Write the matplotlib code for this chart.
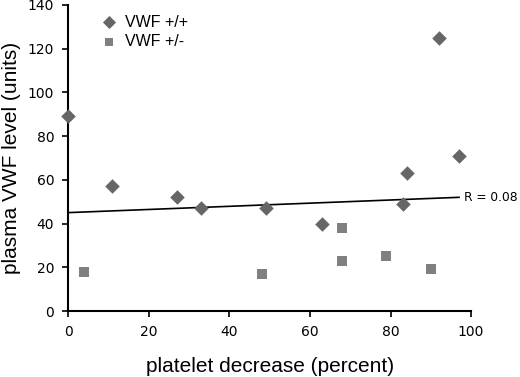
import matplotlib.pyplot as plt

# VWF +/+ (diamonds)
wt_x = [0, 11, 27, 33, 49, 63, 83, 84, 92, 97]
wt_y = [89, 57, 52, 47, 47, 40, 49, 63, 125, 71]

# VWF +/- (squares)
het_x = [4, 48, 68, 68, 79, 90]
het_y = [18, 17, 38, 23, 25, 19]

# regression line end points
fit_x = [0, 97]
fit_y = [45, 52]

x_ticks = [0, 20, 40, 60, 80, 100]
y_ticks = [0, 20, 40, 60, 80, 100, 120, 140]

fig = plt.figure(figsize=(5.2, 3.77), dpi=100)
ax = fig.add_axes([0.131, 0.175, 0.775, 0.812])

ax.plot(fit_x, fit_y, color="black", linewidth=1.2, zorder=1)
ax.scatter(wt_x, wt_y, marker="D", s=55, color="#666666", linewidths=0,
           label="VWF +/+", zorder=3, clip_on=False)
ax.scatter(het_x, het_y, marker="s", s=48, color="#808080", linewidths=0,
           label="VWF +/-", zorder=3, clip_on=False)

ax.text(98.3, 52, "R = 0.08", fontsize=8.8, va="center", ha="left",
        family="DejaVu Sans")

ax.set_xlim(0, 100)
ax.set_ylim(0, 140)
ax.set_xticks(x_ticks)
ax.set_yticks(y_ticks)
ax.tick_params(direction="out", length=4, width=1.2, labelsize=10, pad=6)
for lab in ax.get_xticklabels() + ax.get_yticklabels():
    lab.set_family("DejaVu Sans")

for side in ("top", "right"):
    ax.spines[side].set_visible(False)
for side in ("left", "bottom"):
    ax.spines[side].set_linewidth(1.5)

ax.set_xlabel("platelet decrease (percent)", fontsize=15, family="Liberation Sans",
              labelpad=13)
ax.set_ylabel("plasma VWF level (units)", fontsize=15, family="Liberation Sans",
              labelpad=5)

ax.legend(loc="upper left", bbox_to_anchor=(0.025, 1.015), frameon=False,
          prop={"family": "Liberation Sans", "size": 11.5}, handletextpad=0.0,
          labelspacing=0.3, markerscale=0.9)

fig.savefig("out.png", dpi=100, facecolor="white")
